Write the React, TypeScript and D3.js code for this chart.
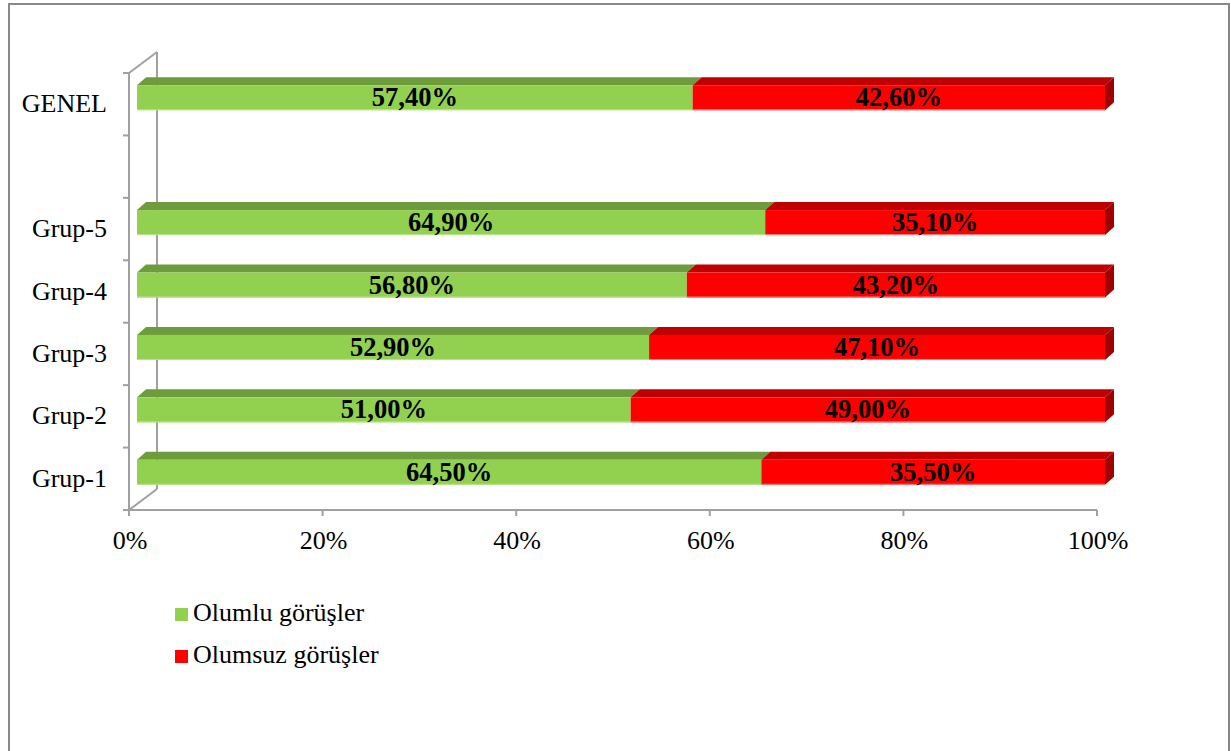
import React from "react";
import * as d3 from "d3";

const categories = ["Grup-1", "Grup-2", "Grup-3", "Grup-4", "Grup-5", "", "GENEL"];
const olumlu: (number | null)[] = [64.5, 51.0, 52.9, 56.8, 64.9, null, 57.4];
const olumsuz: (number | null)[] = [35.5, 49.0, 47.1, 43.2, 35.1, null, 42.6];
const seriesNames = ["Olumlu görüşler", "Olumsuz görüşler"];
const xTicks = [0, 20, 40, 60, 80, 100];

const W = 1231;
const H = 751;
const FONT = "'Liberation Serif', 'Times New Roman', serif";

const colors = {
  green: { front: "#92D050", top: "#6E9B3C", side: "#5E8632", edge: "#B9E38F" },
  red: { front: "#FF0000", top: "#C00000", side: "#A00000", edge: "#FF8080" },
};

export default function App() {
  const x = d3.scaleLinear().domain([0, 100]).range([129, 1097]);
  const idx = categories.map((_, i) => i);
  const y = d3.scaleBand<number>().domain(idx).range([510, 73]).paddingInner(0);
  const step = y.step();

  const wallDx = 28;
  const wallDy = -21;
  const barShift = 8;
  const bdx = 9;
  const bdy = -8;
  const barH = 25;

  const fmt = (v: number) => v.toFixed(2).replace(".", ",") + "%";

  const axisColor = "#A0A0A0";

  const segments: JSX.Element[] = [];
  const labels: JSX.Element[] = [];
  idx.forEach((i) => {
    const a = olumlu[i];
    const b = olumsuz[i];
    if (a == null || b == null) return;
    const c = (y(i) as number) + step / 2;
    const top = c - 19;
    const bot = top + barH;
    const parts = [
      { v0: 0, v1: a, col: colors.green, v: a },
      { v0: a, v1: a + b, col: colors.red, v: b },
    ];
    parts.forEach((p, k) => {
      const x0 = x(p.v0) + barShift;
      const x1 = x(p.v1) + barShift;
      segments.push(
        <g key={`s-${i}-${k}`}>
          <polygon
            points={`${x0},${top} ${x0 + bdx},${top + bdy} ${x1 + bdx},${top + bdy} ${x1},${top}`}
            fill={p.col.top}
          />
          {k === 1 && (
            <polygon
              points={`${x1},${top} ${x1 + bdx},${top + bdy} ${x1 + bdx},${bot + bdy} ${x1},${bot}`}
              fill={p.col.side}
            />
          )}
          <rect x={x0} y={top} width={x1 - x0} height={barH} fill={p.col.front} />
          <line x1={x0} x2={x1} y1={bot - 0.5} y2={bot - 0.5} stroke={p.col.edge} strokeWidth={1} />
        </g>
      );
      labels.push(
        <text
          key={`l-${i}-${k}`}
          x={(x0 + x1) / 2}
          y={(top + bot) / 2 + 8.5}
          textAnchor="middle"
          fontFamily={FONT}
          fontWeight="bold"
          fontSize={26.5}
          fill="#000"
        >
          {fmt(p.v)}
        </text>
      );
    });
  });

  const yBottom = 510;
  const yTop = 73;
  const boundaries = d3.range(categories.length + 1).map((k) => yBottom - k * step);

  return (
    <svg
      width={W}
      height={H}
      style={{ position: "absolute", left: 0, top: 0, background: "#fff" }}
    >
      <rect x={0} y={0} width={W} height={H} fill="#fff" />
      <rect x={9} y={4} width={1220} height={H + 20} fill="none" stroke="#898989" strokeWidth={2} />

      <g stroke={axisColor} strokeWidth={2} fill="none">
        <line x1={x(0) + wallDx} x2={x(0) + wallDx} y1={yTop + wallDy} y2={yBottom + wallDy} />
        <line x1={x(0)} x2={x(0) + wallDx} y1={yTop} y2={yTop + wallDy} />
        <line x1={x(0)} x2={x(0) + wallDx} y1={yBottom} y2={yBottom + wallDy} />
        <line x1={x(0)} x2={x(0)} y1={yTop} y2={yBottom} />
        <line x1={x(0)} x2={x(100)} y1={yBottom} y2={yBottom} />
        {boundaries.map((by, k) => (
          <line key={`yt-${k}`} x1={x(0) - 6} x2={x(0)} y1={by} y2={by} />
        ))}
        {xTicks.map((t) => (
          <line key={`xt-${t}`} x1={x(t)} x2={x(t)} y1={yBottom} y2={yBottom + 6} />
        ))}
      </g>

      {segments}
      {labels}

      {idx.map((i) => (
        <text
          key={`c-${i}`}
          x={107}
          y={(y(i) as number) + step / 2 + 8}
          textAnchor="end"
          fontFamily={FONT}
          fontSize={26}
          fill="#000"
        >
          {categories[i]}
        </text>
      ))}

      {xTicks.map((t) => (
        <text
          key={`xl-${t}`}
          x={x(t) + 1}
          y={549}
          textAnchor="middle"
          fontFamily={FONT}
          fontSize={26}
          fill="#000"
        >
          {t}%
        </text>
      ))}

      {seriesNames.map((n, k) => (
        <g key={`lg-${k}`} transform={`translate(175, ${608 + k * 42})`}>
          <rect x={0} y={0} width={13} height={13} fill={k === 0 ? colors.green.front : colors.red.front} />
          <text x={18} y={13} fontFamily={FONT} fontSize={26} fill="#000">
            {n}
          </text>
        </g>
      ))}
    </svg>
  );
}
